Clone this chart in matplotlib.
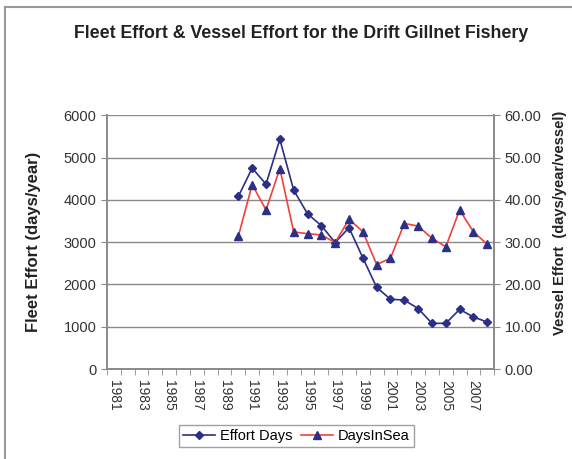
import matplotlib.pyplot as plt
from matplotlib.lines import Line2D
import numpy as np

plt.rcParams['font.family'] = ['Liberation Sans', 'DejaVu Sans']

years = list(range(1981, 2009))
data_years = list(range(1990, 2009))
effort_days = [4080, 4750, 4370, 5430, 4230, 3670, 3390, 2990, 3340, 2630,
               1930, 1650, 1630, 1430, 1080, 1080, 1410, 1230, 1110]
days_in_sea = [31.4, 43.6, 37.6, 47.4, 32.4, 32.0, 31.7, 29.9, 35.4, 32.5,
               24.7, 26.2, 34.4, 33.8, 30.9, 28.9, 37.6, 32.4, 29.5]
tick_years = years[::2]

navy = '#2b2f86'
red = '#f0413a'
gray = '#8a8a8a'

fig = plt.figure(figsize=(5.72, 4.59), dpi=100)
ax = fig.add_axes([0.187, 0.196, 0.677, 0.553])
ax2 = ax.twinx()

ax.plot(data_years, effort_days, color=navy, lw=1.2, marker='D', ms=4.5,
        mfc=navy, mec=navy, label='Effort Days', zorder=3)
ax2.plot(data_years, days_in_sea, color=red, lw=1.2, marker='^', ms=5.5,
         mfc=navy, mec=navy, label='DaysInSea', zorder=3)

ax.set_xlim(years[0] - 0.5, years[-1] + 0.5)
ax.set_ylim(0, 6000)
ax2.set_ylim(0, 60)
ax.set_yticks(np.arange(0, 6001, 1000))
ax2.set_yticks(np.arange(0, 61, 10))
ax2.set_yticklabels([f'{v:.2f}' for v in np.arange(0, 61, 10)])

ax.set_xticks(tick_years)
ax.set_xticklabels([str(y) for y in tick_years], rotation=270)
ax.set_xticks(np.arange(years[0] - 0.5, years[-1] + 1), minor=True)
ax.tick_params(axis='x', which='major', length=0, pad=8, labelsize=10,
               labelcolor='#333333')
ax.tick_params(axis='x', which='minor', length=4, color=gray, direction='out')
ax.tick_params(axis='y', length=4, color=gray, labelsize=10.5,
               labelcolor='#333333')
ax2.tick_params(axis='y', length=4, color=gray, labelsize=10.5,
                labelcolor='#333333')

ax.grid(axis='y', color=gray, lw=1)
ax.set_axisbelow(True)
for a in (ax, ax2):
    a.spines['top'].set_visible(False)
    for s in ('left', 'right', 'bottom'):
        a.spines[s].set_color(gray)
        a.spines[s].set_linewidth(1.2)

ax.set_ylabel('Fleet Effort (days/year)', fontsize=12, fontweight='bold',
              color='#222222', labelpad=16)
ax2.set_ylabel('Vessel Effort  (days/year/vessel)', fontsize=10.5,
               fontweight='bold', color='#222222', rotation=90, va='center')
ax2.yaxis.set_label_coords(1.17, 0.575)

fig.text(0.527, 0.926, 'Fleet Effort & Vessel Effort for the Drift Gillnet Fishery',
         ha='center', va='center', fontsize=12.8, fontweight='bold',
         color='#222222')

h1, l1 = ax.get_legend_handles_labels()
h2, l2 = ax2.get_legend_handles_labels()
leg = fig.legend(h1 + h2, l1 + l2, loc='center', bbox_to_anchor=(0.518, 0.05),
                 ncol=2, fontsize=10.5, frameon=True, fancybox=False,
                 handlelength=2.2, handletextpad=0.3, columnspacing=0.6,
                 borderpad=0.3)
leg.get_frame().set_edgecolor(gray)
leg.get_frame().set_linewidth(1)

# outer chart border (top and left visible)
fig.add_artist(Line2D([0.009, 1], [0.984, 0.984], color='#999999', lw=1.5))
fig.add_artist(Line2D([0.009, 0.009], [0, 0.984], color='#999999', lw=1.5))

fig.savefig('out.png', dpi=100)
